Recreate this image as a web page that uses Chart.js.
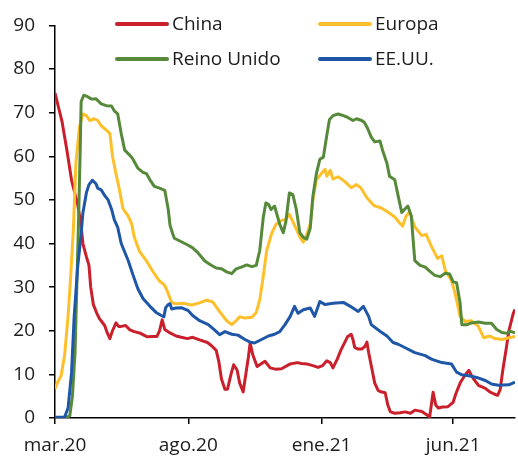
<!DOCTYPE html>
<html lang="es">
<head>
<meta charset="utf-8">
<script src="https://cdn.jsdelivr.net/npm/chart.js@4/dist/chart.umd.min.js"></script>
<style>
  html, body { margin: 0; padding: 0; background: #ffffff; }
  #wrap { width: 518px; height: 459px; }
</style>
</head>
<body>
<div id="wrap"><canvas id="chart" width="518" height="459"></canvas></div>
<script>
// Days counted from 1 March 2020
const tickDays = [0, 153, 306, 457];
const tickLabels = ['mar.20', 'ago.20', 'ene.21', 'jun.21'];

const seriesNames = ['China', 'Europa', 'Reino Unido', 'EE.UU.'];

const chinaDays = [0, 8, 14, 19, 26, 30, 32, 36, 39, 41, 44, 48, 51, 57, 60, 63, 66, 70, 73, 76, 81, 86, 91, 97, 102, 106, 112, 117, 120, 123, 126, 132, 139, 145, 152, 158, 166, 175, 180, 185, 188, 191, 195, 198, 202, 205, 209, 212, 216, 219, 222, 224, 227, 232, 235, 241, 247, 253, 260, 270, 278, 283, 289, 296, 302, 307, 312, 316, 319, 324, 328, 333, 336, 340, 342, 344, 348, 352, 356, 358, 360, 364, 367, 371, 374, 379, 382, 385, 390, 396, 402, 408, 413, 421, 427, 430, 434, 437, 440, 445, 451, 457, 460, 465, 468, 472, 475, 478, 481, 486, 494, 499, 504, 508, 511, 514, 518, 521, 526, 528];
const chinaValues = [74.5, 68, 61, 54.5, 49, 44, 40, 37, 35, 30, 26, 24, 22.8, 21.2, 19.5, 18.2, 20, 21.8, 21, 21, 21.2, 20.2, 19.8, 19.5, 19, 18.6, 18.7, 18.7, 20, 22.5, 20.3, 19.5, 18.8, 18.5, 18.2, 18.5, 17.9, 17.3, 16.5, 15.5, 13, 9, 6.6, 6.6, 10, 12.2, 11, 8, 6, 10, 14, 17.2, 14.5, 11.8, 12.2, 13, 11.5, 11.2, 11.3, 12.4, 12.7, 12.5, 12.4, 12, 11.6, 12, 13.1, 12.7, 11.5, 13.5, 15.5, 17.5, 18.7, 19.2, 18, 16.2, 15.8, 15.8, 16.5, 17.4, 15, 11, 8, 6.3, 6, 5.8, 3, 1.4, 1.1, 1.2, 1.4, 1.1, 1.8, 1.5, 0.7, 0.2, 5.9, 3, 2.3, 2.5, 2.6, 3.6, 5.5, 8, 9, 10.2, 10.9, 9.8, 8.8, 7.5, 6.8, 6, 5.5, 5.2, 6.5, 11, 16, 20, 24, 24.9];

const europaDays = [0, 3, 7, 11, 15, 18, 21, 24, 28, 32, 36, 40, 45, 49, 53, 59, 63, 66, 70, 74, 78, 84, 88, 91, 97, 105, 112, 120, 126, 130, 134, 139, 147, 157, 166, 174, 181, 189, 197, 203, 208, 212, 218, 226, 231, 235, 239, 243, 249, 254, 260, 265, 269, 273, 277, 281, 285, 289, 293, 296, 300, 306, 310, 312, 316, 319, 325, 332, 340, 346, 351, 358, 366, 374, 382, 390, 396, 399, 403, 407, 413, 417, 421, 426, 432, 439, 444, 448, 455, 459, 465, 471, 478, 486, 492, 499, 505, 513, 521, 528];
const europaValues = [6.7, 8.2, 9.7, 14.3, 23.3, 32.4, 43, 58.4, 66.7, 69.7, 69.3, 68.2, 68.6, 68.2, 67, 66, 65.2, 60, 56, 52.3, 48, 46.3, 44.5, 41.5, 38.2, 36, 33.7, 31.4, 30.4, 28.5, 26.4, 26.2, 26.3, 25.9, 26.4, 27, 26.6, 24.4, 22.3, 21.4, 22.3, 23.2, 22.9, 23.1, 24.2, 27.1, 32.4, 38.4, 42.5, 44.5, 45.3, 45.5, 46.7, 45, 43.3, 41.5, 40.3, 42.1, 44.5, 50, 54.6, 56.1, 57, 55.4, 56.8, 54.8, 55.3, 54.3, 52.8, 53.5, 52.8, 50.5, 48.7, 48.2, 47.2, 46.1, 44.6, 44, 46.3, 47.2, 43.8, 42.8, 41.8, 42.1, 39.4, 36.6, 37.2, 33.8, 31.5, 28.8, 23.3, 22.1, 22.3, 21, 18.4, 18.8, 18.2, 18, 18.4, 18.7];

const reinoUnidoDays = [0, 11, 17, 20, 23, 25, 27, 29, 30, 33, 36, 42, 47, 53, 59, 65, 68, 72, 76, 80, 86, 89, 95, 101, 105, 109, 114, 120, 126, 130, 132, 135, 137, 145, 153, 158, 164, 172, 178, 185, 191, 197, 203, 208, 214, 220, 226, 231, 235, 239, 242, 245, 248, 252, 258, 262, 265, 269, 273, 277, 281, 285, 289, 293, 296, 300, 304, 308, 312, 315, 319, 325, 331, 336, 342, 346, 352, 355, 359, 363, 367, 373, 376, 381, 384, 390, 394, 398, 401, 405, 409, 411, 413, 419, 425, 431, 436, 442, 448, 453, 457, 461, 465, 467, 473, 478, 486, 494, 501, 507, 513, 519, 522, 528];
const reinoUnidoValues = [0, 0, 0.5, 5, 15, 30, 45, 62, 72.5, 74, 73.8, 73.1, 73.2, 72, 71.6, 71.5, 70.4, 69.7, 65.2, 61.4, 60.2, 59.5, 57.3, 56.3, 56, 54.6, 53.1, 52.7, 52.2, 47.8, 44.2, 42.3, 41.2, 40.4, 39.6, 39, 37.9, 36, 35.2, 34.4, 34.2, 33.5, 33.1, 34.2, 34.6, 35.1, 34.7, 35, 38.4, 45.9, 49.3, 49, 47.8, 48.6, 44.4, 42.5, 45, 51.6, 51.2, 47.8, 42.5, 41.4, 41, 43.5, 50.8, 56, 59.3, 59.8, 64.8, 68.4, 69.3, 69.7, 69.3, 68.9, 68.2, 68.6, 68.2, 67.8, 66.3, 64.4, 63.3, 63.5, 61.4, 58.4, 55.4, 54.6, 50.8, 47.1, 47.8, 48.6, 46.3, 41, 36.1, 35, 34.6, 33.5, 32.7, 32.4, 33.2, 33, 31.2, 31, 26.3, 21.4, 21.4, 21.8, 22, 21.7, 21.7, 20.3, 19.6, 19.4, 19.9, 19.5];

const eeuuDays = [0, 11, 15, 19, 22, 26, 30, 32, 36, 39, 43, 47, 49, 53, 57, 61, 65, 68, 72, 76, 84, 89, 95, 101, 109, 116, 122, 125, 127, 130, 132, 134, 139, 145, 153, 158, 166, 176, 183, 189, 195, 203, 210, 218, 224, 229, 237, 245, 252, 258, 264, 270, 275, 279, 285, 293, 298, 304, 310, 319, 331, 339, 348, 354, 360, 363, 373, 381, 388, 394, 402, 413, 425, 432, 444, 455, 461, 467, 475, 484, 494, 501, 509, 521, 528];
const eeuuValues = [0.2, 0.2, 2.3, 10.4, 23.3, 34.6, 42.1, 47, 51.6, 53.5, 54.5, 53.7, 52.7, 52.3, 51, 50, 47.8, 45.5, 43.7, 40, 36.1, 33.1, 29.7, 27.4, 25.6, 24.2, 23.5, 23.2, 25.3, 26, 26.2, 25, 25.2, 25.3, 24.6, 23.5, 22.3, 21.4, 20.2, 19.1, 19.8, 19.2, 19, 18, 17.4, 17.2, 18, 18.8, 19.2, 19.8, 21.4, 23.3, 25.6, 24, 24.8, 25.2, 23.3, 26.7, 26, 26.3, 26.5, 25.6, 24.4, 25.6, 23.3, 21.4, 19.9, 18.8, 17.3, 16.9, 16.1, 15, 14.3, 13.5, 12.7, 12.4, 10.5, 9.9, 9.7, 9.3, 8.6, 7.8, 7.5, 7.6, 8.2];

const colors = ['#c9202c', '#fec02a', '#568a3a', '#1f57a8'];

function toPoints(days, values) {
  return days.map((d, i) => ({ x: d, y: values[i] }));
}

const FONT = '"Open Sans", "Noto Sans", sans-serif';
const TEXT = '#1c1c1c';

// Two-column legend drawn inside the top of the plot
const gridLegend = {
  id: 'gridLegend',
  afterDraw(chart) {
    const ctx = chart.ctx;
    const cols = [{ x0: 117, x1: 167, tx: 172 }, { x0: 320, x1: 370, tx: 375 }];
    const rows = [24, 59];
    ctx.save();
    ctx.font = '19px ' + FONT;
    ctx.textBaseline = 'middle';
    ctx.textAlign = 'left';
    chart.data.datasets.forEach((ds, i) => {
      const c = cols[i % 2];
      const y = rows[Math.floor(i / 2)];
      ctx.strokeStyle = ds.borderColor;
      ctx.lineWidth = 4;
      ctx.lineCap = 'round';
      ctx.beginPath();
      ctx.moveTo(c.x0, y);
      ctx.lineTo(c.x1, y);
      ctx.stroke();
      ctx.fillStyle = TEXT;
      ctx.fillText(ds.label, c.tx, y + 1);
    });
    ctx.restore();
  }
};

const allDays = [chinaDays, europaDays, reinoUnidoDays, eeuuDays];
const allValues = [chinaValues, europaValues, reinoUnidoValues, eeuuValues];

new Chart(document.getElementById('chart'), {
  type: 'line',
  data: {
    datasets: seriesNames.map((name, i) => ({
      label: name,
      data: toPoints(allDays[i], allValues[i]),
      borderColor: colors[i],
      backgroundColor: colors[i],
      borderWidth: 3,
      pointRadius: 0,
      tension: 0,
      borderJoinStyle: 'round',
      fill: false,
      order: seriesNames.length - i
    }))
  },
  options: {
    responsive: false,
    animation: false,
    events: [],
    layout: { padding: { top: 20, right: 3, bottom: 0, left: 0 } },
    plugins: { legend: { display: false }, tooltip: { enabled: false } },
    scales: {
      x: {
        type: 'linear',
        min: 0,
        max: 528,
        afterBuildTicks(scale) {
          scale.ticks = tickDays.map(v => ({ value: v }));
        },
        afterFit(scale) { scale.height = 41; },
        grid: { display: true, drawOnChartArea: false, drawTicks: true, tickLength: 6, color: '#000', lineWidth: 1.5 },
        border: { display: true, color: '#000', width: 1.5 },
        ticks: {
          autoSkip: false,
          maxRotation: 0,
          padding: 10,
          color: TEXT,
          font: { family: FONT, size: 19 },
          callback: (v) => tickLabels[tickDays.indexOf(v)]
        }
      },
      y: {
        min: 0,
        max: 90,
        afterFit(scale) { scale.width = 55; },
        grid: { display: true, drawOnChartArea: false, drawTicks: true, tickLength: 6, color: '#000', lineWidth: 1.5 },
        border: { display: true, color: '#000', width: 1.5 },
        ticks: {
          stepSize: 10,
          padding: 14,
          color: TEXT,
          font: { family: FONT, size: 19 }
        }
      }
    }
  },
  plugins: [gridLegend]
});
</script>
</body>
</html>
